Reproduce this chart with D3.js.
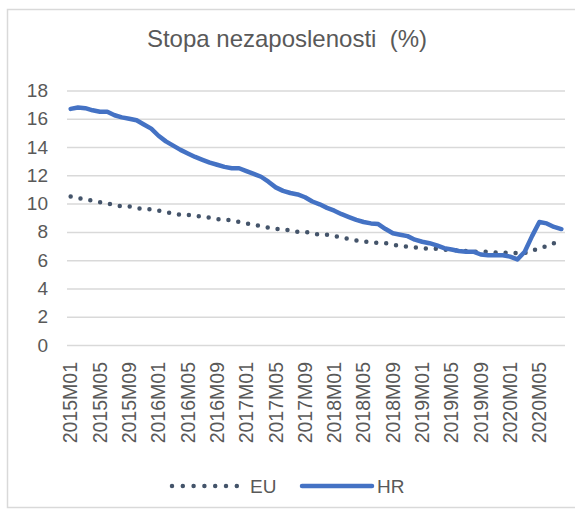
<!DOCTYPE html>
<html>
<head>
<meta charset="utf-8">
<script src="https://cdn.jsdelivr.net/npm/d3@7"></script>
<style>
	body { margin: 0; background: #fff; }
	svg { display: block; }
	.axis text { font-family: "Liberation Sans", Arial, sans-serif; font-size: 19px; fill: #595959; }
	.x.axis text { font-size: 19.5px; }
	.axis .domain { display: none; }
	.grid line { stroke: #d9d9d9; stroke-width: 1.5; }
	.grid .domain { display: none; }
	.graphtitle { font-family: "Liberation Sans", Arial, sans-serif; font-size: 24px; fill: #595959; white-space: pre; }
	.legendtext { font-family: "Liberation Sans", Arial, sans-serif; font-size: 19px; fill: #595959; }
</style>
</head>
<body>
<svg id="chart"></svg>
<script>
// monthly categories 2015M01 .. 2020M08
var years = ["2015", "2016", "2017", "2018", "2019", "2020"];
var monthCodes = ["01","02","03","04","05","06","07","08","09","10","11","12"];
var lastMonth = "2020M08";

// unemployment rate (%)
var euValues = [10.5, 10.4, 10.3, 10.2, 10.1, 10.0, 9.9, 9.8, 9.8, 9.7, 9.6, 9.6,
	9.5, 9.4, 9.3, 9.2, 9.2, 9.1, 9.1, 9.0, 8.9, 8.9, 8.8, 8.7,
	8.6, 8.5, 8.4, 8.3, 8.2, 8.2, 8.1, 8.0, 8.0, 7.9, 7.8, 7.8,
	7.7, 7.6, 7.5, 7.4, 7.3, 7.3, 7.2, 7.2, 7.1, 7.0, 6.95, 6.9,
	6.85, 6.8, 6.8, 6.75, 6.7, 6.7, 6.65, 6.6, 6.6, 6.6, 6.55, 6.55,
	6.5, 6.5, 6.5, 6.7, 6.8, 7.0, 7.2, 7.35];
var hrValues = [16.7, 16.8, 16.75, 16.6, 16.5, 16.5, 16.25, 16.1, 16.0, 15.9, 15.6, 15.3,
	14.8, 14.4, 14.1, 13.8, 13.55, 13.3, 13.1, 12.9, 12.75, 12.6, 12.5, 12.5,
	12.3, 12.1, 11.9, 11.55, 11.15, 10.9, 10.75, 10.65, 10.45, 10.15, 9.95, 9.7,
	9.5, 9.25, 9.05, 8.85, 8.7, 8.6, 8.55, 8.2, 7.9, 7.8, 7.7, 7.45,
	7.3, 7.2, 7.05, 6.85, 6.75, 6.65, 6.6, 6.6, 6.4, 6.35, 6.35, 6.35,
	6.25, 6.05, 6.6, 7.7, 8.7, 8.6, 8.35, 8.2];
var yTicks = [0, 2, 4, 6, 8, 10, 12, 14, 16, 18];
var graphHeader = "Stopa nezaposlenosti  (%)";

var months = [];
years.forEach(function(yr) {
	monthCodes.forEach(function(m) {
		var code = yr + "M" + m;
		if (months.length == 0 || months[months.length-1] != lastMonth) {
			months.push(code);
		}
	});
});

var totalWidth = 575, totalHeight = 511;
var margin = {top: 90.5, right: 10, bottom: 166, left: 67},
	width = 565 - margin.left,
	height = totalHeight - margin.top - margin.bottom;

var svg = d3.select("#chart")
	.attr("width", totalWidth)
	.attr("height", totalHeight);

// Chart border
svg.append("rect")
	.attr("x", 7.5)
	.attr("y", 9.5)
	.attr("width", 600)
	.attr("height", 498)
	.attr("fill", "none")
	.attr("stroke", "#d9d9d9")
	.attr("stroke-width", 1.5);

// Add title
svg.append("text")
	.attr("class", "graphtitle")
	.attr("x", 287)
	.attr("y", 47)
	.attr("text-anchor", "middle")
	.text(graphHeader);

var chart = svg.append("g")
	.attr("transform", "translate(" + margin.left + "," + margin.top + ")");

var x = d3.scaleBand()
	.domain(months)
	.range([0, width])
	.padding(0);

var y = d3.scaleLinear()
	.domain([0, 18])
	.range([height, 0]);

function cx(d, i) { return x(months[i]) + x.bandwidth() / 2; }

// Gridlines
chart.append("g")
	.attr("class", "grid")
	.call(d3.axisLeft(y).tickValues(yTicks).tickSize(-width).tickFormat(""));

// Add the y axis
chart.append("g")
	.attr("class", "y axis")
	.attr("transform", "translate(-19,0)")
	.call(d3.axisLeft(y).tickValues(yTicks).tickSize(0).tickPadding(0));

// Add the x axis
var xAxis = d3.axisBottom(x)
	.tickValues(months.filter(function(d, i) { return i % 4 == 0; }))
	.tickSize(0);

chart.append("g")
	.attr("class", "x axis")
	.attr("transform", "translate(0," + height + ")")
	.call(xAxis);

// Rotate the axis text
chart.select(".x.axis")
	.selectAll("text")
	.attr("transform", "rotate(-90)")
	.attr("x", -17)
	.attr("y", 0)
	.attr("dy", "0.35em")
	.attr("text-anchor", "end");

// Draw lines
var line = d3.line()
	.x(cx)
	.y(function(d) { return y(d); });

chart.append("path")
	.datum(euValues)
	.attr("fill", "none")
	.attr("stroke", "#44546a")
	.attr("stroke-width", 4.5)
	.attr("stroke-linecap", "round")
	.attr("stroke-dasharray", "0 10")
	.attr("d", line);

chart.append("path")
	.datum(hrValues)
	.attr("fill", "none")
	.attr("stroke", "#4472c4")
	.attr("stroke-width", 4.5)
	.attr("stroke-linecap", "round")
	.attr("stroke-linejoin", "round")
	.attr("d", line);

// Legend
var legend = svg.append("g").attr("class", "legend");
legend.append("line")
	.attr("x1", 172).attr("x2", 237)
	.attr("y1", 486).attr("y2", 486)
	.attr("stroke", "#44546a")
	.attr("stroke-width", 4.5)
	.attr("stroke-linecap", "round")
	.attr("stroke-dasharray", "0 10.8");
legend.append("text")
	.attr("class", "legendtext")
	.attr("x", 250).attr("y", 493)
	.text("EU");
legend.append("line")
	.attr("x1", 302).attr("x2", 372)
	.attr("y1", 486).attr("y2", 486)
	.attr("stroke", "#4472c4")
	.attr("stroke-width", 4.5)
	.attr("stroke-linecap", "round");
legend.append("text")
	.attr("class", "legendtext")
	.attr("x", 377).attr("y", 493)
	.text("HR");
</script>
</body>
</html>
